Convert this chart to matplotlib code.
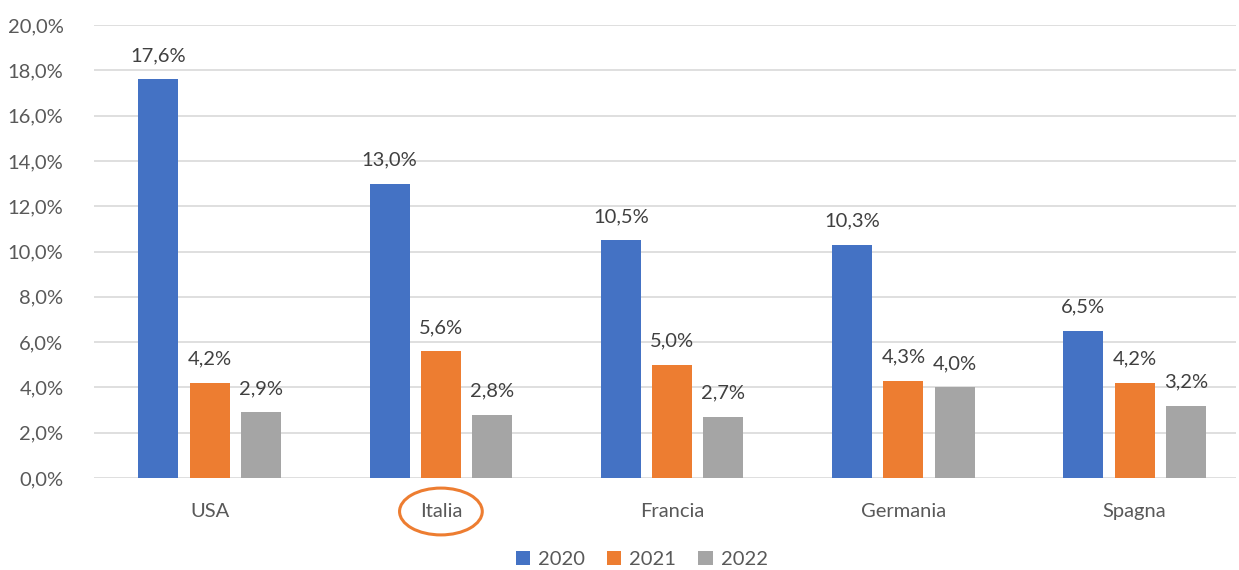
import matplotlib.pyplot as plt
import numpy as np

paesi = ['USA', 'Italia', 'Francia', 'Germania', 'Spagna']
anni = ['2020', '2021', '2022']
v2020 = [17.6, 13.0, 10.5, 10.3, 6.5]
v2021 = [4.2, 5.6, 5.0, 4.3, 4.2]
v2022 = [2.9, 2.8, 2.7, 4.0, 3.2]
colori = ['#4472C4', '#ED7D31', '#A5A5A5']

plt.rcParams['font.family'] = ['Lato', 'DejaVu Sans']
testo = '#595959'
fs = 14.5

fig = plt.figure(figsize=(12.39, 5.70), dpi=100)
ax = fig.add_axes([0.0759, 0.1614, 0.922, 0.7947])

x = np.arange(len(paesi))
width = 0.173
step = 0.222

for i, (vals, anno) in enumerate(zip([v2020, v2021, v2022], anni)):
    pos = x + (i - 1) * step
    bars = ax.bar(pos, vals, width, color=colori[i], label=anno, zorder=3)
    for b, v in zip(bars, vals):
        ax.annotate(f'{v:.1f}%'.replace('.', ','),
                    (b.get_x() + b.get_width() / 2, v),
                    xytext=(0, 11), textcoords='offset points',
                    ha='center', va='bottom', fontsize=fs, color='#404040')

ax.set_ylim(0, 20)
ax.set_xlim(-0.5, 4.44)
ax.set_yticks(np.arange(0, 21, 2))
ax.set_yticklabels([f'{t:.1f}%'.replace('.', ',') for t in np.arange(0, 21, 2)])
ax.set_xticks(x)
ax.set_xticklabels(paesi)
ax.tick_params(axis='both', length=0, labelsize=fs, labelcolor=testo)
ax.tick_params(axis='x', pad=18)
ax.tick_params(axis='y', pad=22)
ax.grid(True, axis='y', color='#D9D9D9', lw=1.2, zorder=0)
for s in ax.spines.values():
    s.set_visible(False)

ax.get_xticklabels()[1].set_bbox(dict(boxstyle='ellipse,pad=0.4', fc='none',
                                      ec='#ED7D31', lw=2.2))

fig.legend(loc='center', ncol=3, frameon=False, fontsize=fs,
           handlelength=0.7, handleheight=0.7, handletextpad=0.4,
           columnspacing=1.1, borderpad=0, bbox_to_anchor=(0.518, 0.018),
           labelcolor=testo)

fig.savefig('out.png', dpi=100)
